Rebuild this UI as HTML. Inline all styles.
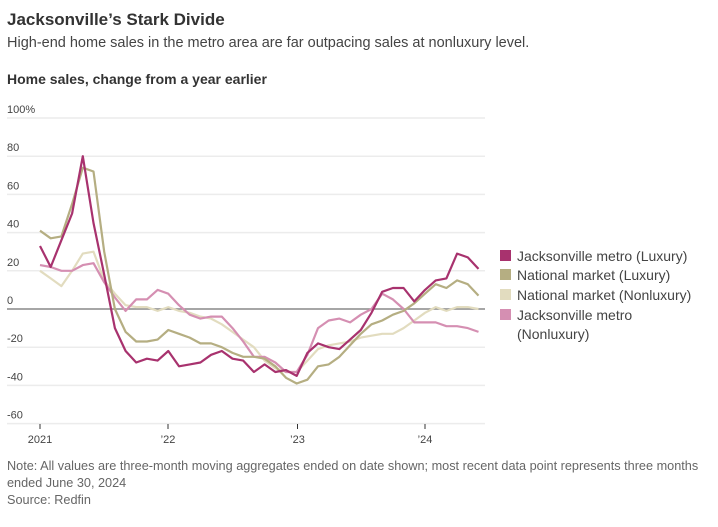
<!DOCTYPE html>
<html><head><meta charset="utf-8"><style>
body{margin:0;width:718px;height:522px;background:#fff;font-family:"Liberation Sans",sans-serif;color:#333;overflow:hidden}
svg text{font-family:"Liberation Sans",sans-serif}
</style></head><body>
<svg id="s" width="718" height="522" xmlns="http://www.w3.org/2000/svg">
<text x="7" y="25" font-size="17" font-weight="bold" fill="#333">Jacksonville’s Stark Divide</text>
<text x="7" y="47" font-size="14.5" fill="#444">High-end home sales in the metro area are far outpacing sales at nonluxury level.</text>
<text x="7" y="84" font-size="14" font-weight="bold" fill="#333">Home sales, change from a year earlier</text>
<g id="grid"></g>
<g id="lines"></g>
<g font-size="14" fill="#444">
<rect x="500" y="250" width="11" height="11" fill="#a8326e"/><text x="517" y="261">Jacksonville metro (Luxury)</text>
<rect x="500" y="269" width="11" height="11" fill="#b5ae82"/><text x="517" y="280">National market (Luxury)</text>
<rect x="500" y="289" width="11" height="11" fill="#e2dcbf"/><text x="517" y="300">National market (Nonluxury)</text>
<rect x="500" y="309" width="11" height="11" fill="#d58fb2"/><text x="517" y="320">Jacksonville metro</text>
<text x="517" y="339">(Nonluxury)</text>
</g>
<g font-size="12.7" fill="#666">
<text x="7" y="470">Note: All values are three-month moving aggregates ended on date shown; most recent data point represents three months</text>
<text x="7" y="487">ended June 30, 2024</text>
<text x="7" y="504">Source: Redfin</text>
</g>
</svg>
<script>
var NS="http://www.w3.org/2000/svg",g=document.getElementById("grid"),L=document.getElementById("lines");
function Y(v){return 309-v*38.2/20}
function el(t,a,p,txt){var e=document.createElementNS(NS,t);for(var k in a)e.setAttribute(k,a[k]);if(txt)e.textContent=txt;p.appendChild(e);return e}
[100,80,60,40,20,-20,-40,-60].forEach(function(v){var y=Y(v);el("line",{x1:7,x2:485,y1:y,y2:y,stroke:"#ececec","stroke-width":1.5},g);el("text",{x:7,y:y-5,"font-size":11,fill:"#444"},g,v==100?"100%":String(v))});
el("text",{x:7,y:Y(0)-5,"font-size":11,fill:"#444"},g,"0");
[[40,"2021"],[168,"’22"],[297.5,"’23"],[425,"’24"]].forEach(function(t){el("line",{x1:t[0],x2:t[0],y1:424,y2:429,stroke:"#333"},g);el("text",{x:t[0],y:443,"font-size":11,fill:"#444","text-anchor":"middle"},g,t[1])});
var S=[
["#e2dcbf",[20,16,12,20,29,30,15,8,2,1,1,-1,1,-1,-2,-4,-5,-8,-12,-16,-20,-27,-31,-33,-33,-27,-21,-19,-18,-17,-15,-14,-13,-13,-10,-6,-2,1,-1,1,1,0]],
["#d58fb2",[23,22,20,20,23,24,14,6,-1,5,5,10,8,2,-3,-5,-4,-4,-10,-17,-25,-25,-28,-33,-33,-24,-10,-6,-5,-7,-3,0,8,5,0,-7,-7,-7,-9,-9,-10,-12]],
["#b5ae82",[41,37,38,55,74,72,30,0,-12,-17,-17,-16,-11,-13,-15,-18,-18,-20,-23,-25,-25,-26,-30,-36,-39,-37,-30,-29,-25,-19,-13,-8,-6,-3,-1,3,8,13,11,15,13,7]],
["#a8326e",[33,22,36,50,80,45,18,-10,-22,-28,-26,-27,-22,-30,-29,-28,-24,-22,-26,-27,-33,-29,-33,-32,-35,-23,-18,-20,-21,-16,-11,-2,9,11,11,4,10,15,16,29,27,21]]];
el("line",{x1:7,x2:485,y1:309,y2:309,stroke:"#888","stroke-width":1.5},L);
S.forEach(function(s){var p=s[1].map(function(v,i){return (40+i*10.694).toFixed(1)+","+Y(v).toFixed(1)}).join(" ");el("polyline",{points:p,fill:"none",stroke:s[0],"stroke-width":2.2,"stroke-linejoin":"round"},L)});
</script>
</body></html>
